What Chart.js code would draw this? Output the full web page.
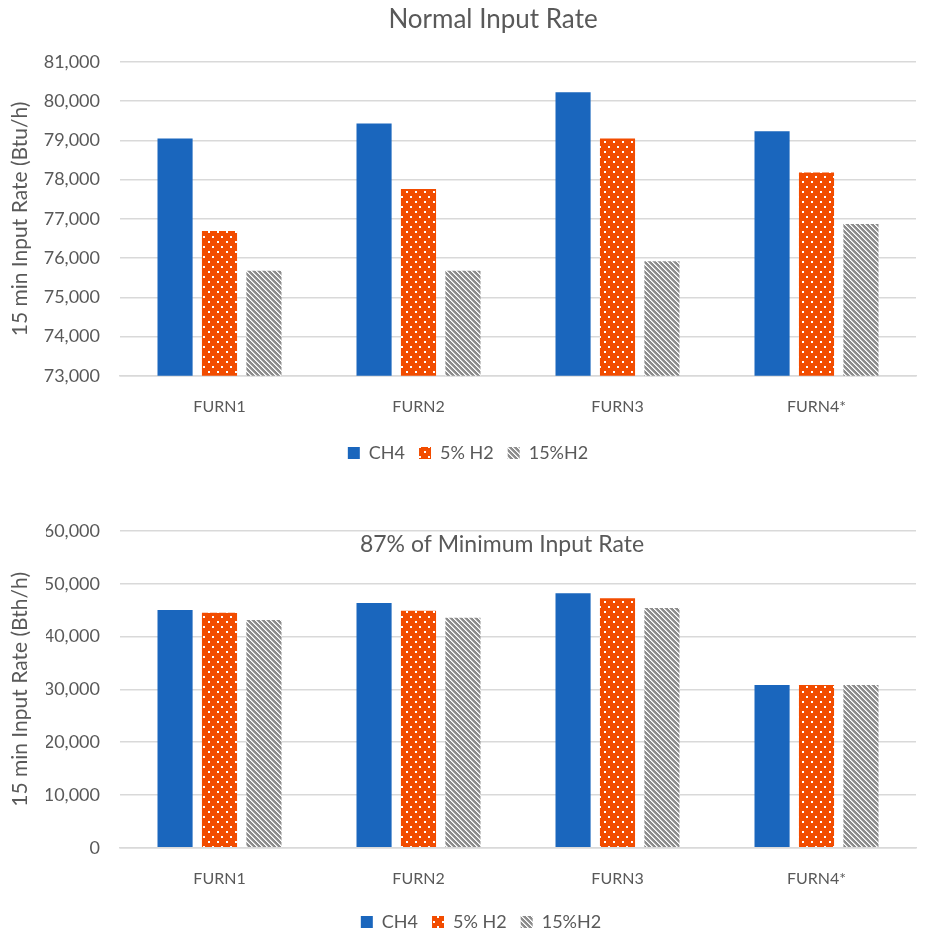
<!DOCTYPE html>
<html>
<head>
<meta charset="utf-8">
<script src="https://cdn.jsdelivr.net/npm/chart.js@4/dist/chart.umd.min.js"></script>
<style>
  html, body { margin: 0; padding: 0; background: #ffffff; overflow: hidden; }
  .wrap { position: absolute; left: 0; width: 935px; }
  #top { top: 0; height: 480px; }
  #bottom { top: 480px; height: 461px; }
</style>
</head>
<body>
<div class="wrap" id="top"><canvas id="normalChart"></canvas></div>
<div class="wrap" id="bottom"><canvas id="minChart"></canvas></div>
<script>
// Furnace categories and series
const categories = ['FURN1', 'FURN2', 'FURN3', 'FURN4*'];
const seriesNames = ['CH4', '5% H2', '15%H2'];

// Normal input rate (Btu/h)
const normalCH4 = [79050, 79430, 80230, 79235];
const normalH2_5 = [76690, 77760, 79050, 78180];
const normalH2_15 = [75680, 75680, 75920, 76870];

// 87% of minimum input rate (Btu/h)
const minCH4 = [45040, 46370, 48210, 30820];
const minH2_5 = [44520, 44900, 47250, 30820];
const minH2_15 = [43130, 43570, 45420, 30820];

const FONT = 'Lato, "Open Sans", sans-serif';
const TEXT = '#595959';
const GRID = '#d9d9d9';
const BLUE = '#1a66bd';
const ORANGE = '#f24c00';
const GREY = '#8c8c8c';

// Orange fill with staggered white dots
function dotPattern() {
  const c = document.createElement('canvas');
  c.width = 9; c.height = 10;
  const g = c.getContext('2d');
  g.fillStyle = ORANGE; g.fillRect(0, 0, 9, 10);
  g.fillStyle = '#ffffff';
  g.fillRect(1, 1, 2, 2);
  g.fillRect(5, 6, 2, 2);
  return g.createPattern(c, 'repeat');
}

// Grey fill with thin white downward diagonal stripes
function stripePattern() {
  const n = 5;
  const c = document.createElement('canvas');
  c.width = n; c.height = n;
  const g = c.getContext('2d');
  for (let y = 0; y < n; y++) {
    for (let x = 0; x < n; x++) {
      const k = (x - y + n) % n;
      g.fillStyle = k === 0 ? '#ffffff' : (k === 1 ? '#d4d4d4' : GREY);
      g.fillRect(x, y, 1, 1);
    }
  }
  return g.createPattern(c, 'repeat');
}

const dots = dotPattern();
const stripes = stripePattern();

// Title drawn inside the chart canvas at a fixed spot
const titleText = {
  id: 'titleText',
  afterDraw(chart, args, opts) {
    const ctx = chart.ctx;
    ctx.save();
    ctx.font = opts.size + 'px ' + FONT;
    ctx.fillStyle = TEXT;
    ctx.textAlign = 'center';
    ctx.textBaseline = 'middle';
    ctx.fillText(opts.text, opts.x, opts.y);
    ctx.restore();
  }
};

function makeChart(id, data, cfg) {
  return new Chart(document.getElementById(id), {
    type: 'bar',
    data: {
      labels: categories,
      datasets: [
        { label: seriesNames[0], data: data[0], backgroundColor: BLUE },
        { label: seriesNames[1], data: data[1], backgroundColor: dots },
        { label: seriesNames[2], data: data[2], backgroundColor: stripes }
      ]
    },
    options: {
      responsive: true,
      maintainAspectRatio: false,
      animation: false,
      datasets: { bar: { categoryPercentage: 0.67, barPercentage: 0.79 } },
      layout: { padding: { left: cfg.left, right: 19, top: cfg.top, bottom: cfg.bottom } },
      scales: {
        x: {
          afterFit(scale) { scale.height -= cfg.xShrink; },
          grid: { display: false, drawTicks: false },
          border: { display: true, color: GRID, width: 1.5 },
          ticks: { color: TEXT, font: { family: FONT, size: 16 }, padding: 21 }
        },
        y: {
          min: cfg.min, max: cfg.max,
          afterFit(scale) { scale.width = 120 - cfg.left; },
          grid: { color: GRID, lineWidth: 1.5, drawTicks: false },
          border: { display: false },
          ticks: {
            stepSize: cfg.step, color: TEXT, padding: 20,
            font: { family: FONT, size: 18 },
            callback: v => v.toLocaleString('en-US')
          },
          title: {
            display: true, text: cfg.yTitle, color: TEXT,
            font: { family: FONT, size: 21 },
            padding: { top: 20 - cfg.left - 12.6, bottom: 0 }
          }
        }
      },
      plugins: {
        legend: {
          position: 'bottom',
          labels: {
            color: TEXT, boxWidth: 12, boxHeight: 12, padding: 14,
            font: { family: FONT, size: 18 }
          }
        },
        tooltip: { enabled: false },
        titleText: { text: cfg.title, x: cfg.tx, y: cfg.ty, size: cfg.tsize }
      }
    },
    plugins: [titleText]
  });
}

makeChart('normalChart', [normalCH4, normalH2_5, normalH2_15], {
  title: 'Normal Input Rate', tx: 493, ty: 20, tsize: 26,
  yTitle: '15 min Input Rate (Btu/h)',
  min: 73000, max: 81000, step: 1000,
  left: 20, top: 62, bottom: 8, xShrink: 7
});

makeChart('minChart', [minCH4, minH2_5, minH2_15], {
  title: '87% of Minimum Input Rate', tx: 502, ty: 65, tsize: 23,
  yTitle: '15 min Input Rate (Bth/h)',
  min: 0, max: 60000, step: 10000,
  left: 46, top: 51, bottom: 0, xShrink: 10
});
</script>
</body>
</html>
